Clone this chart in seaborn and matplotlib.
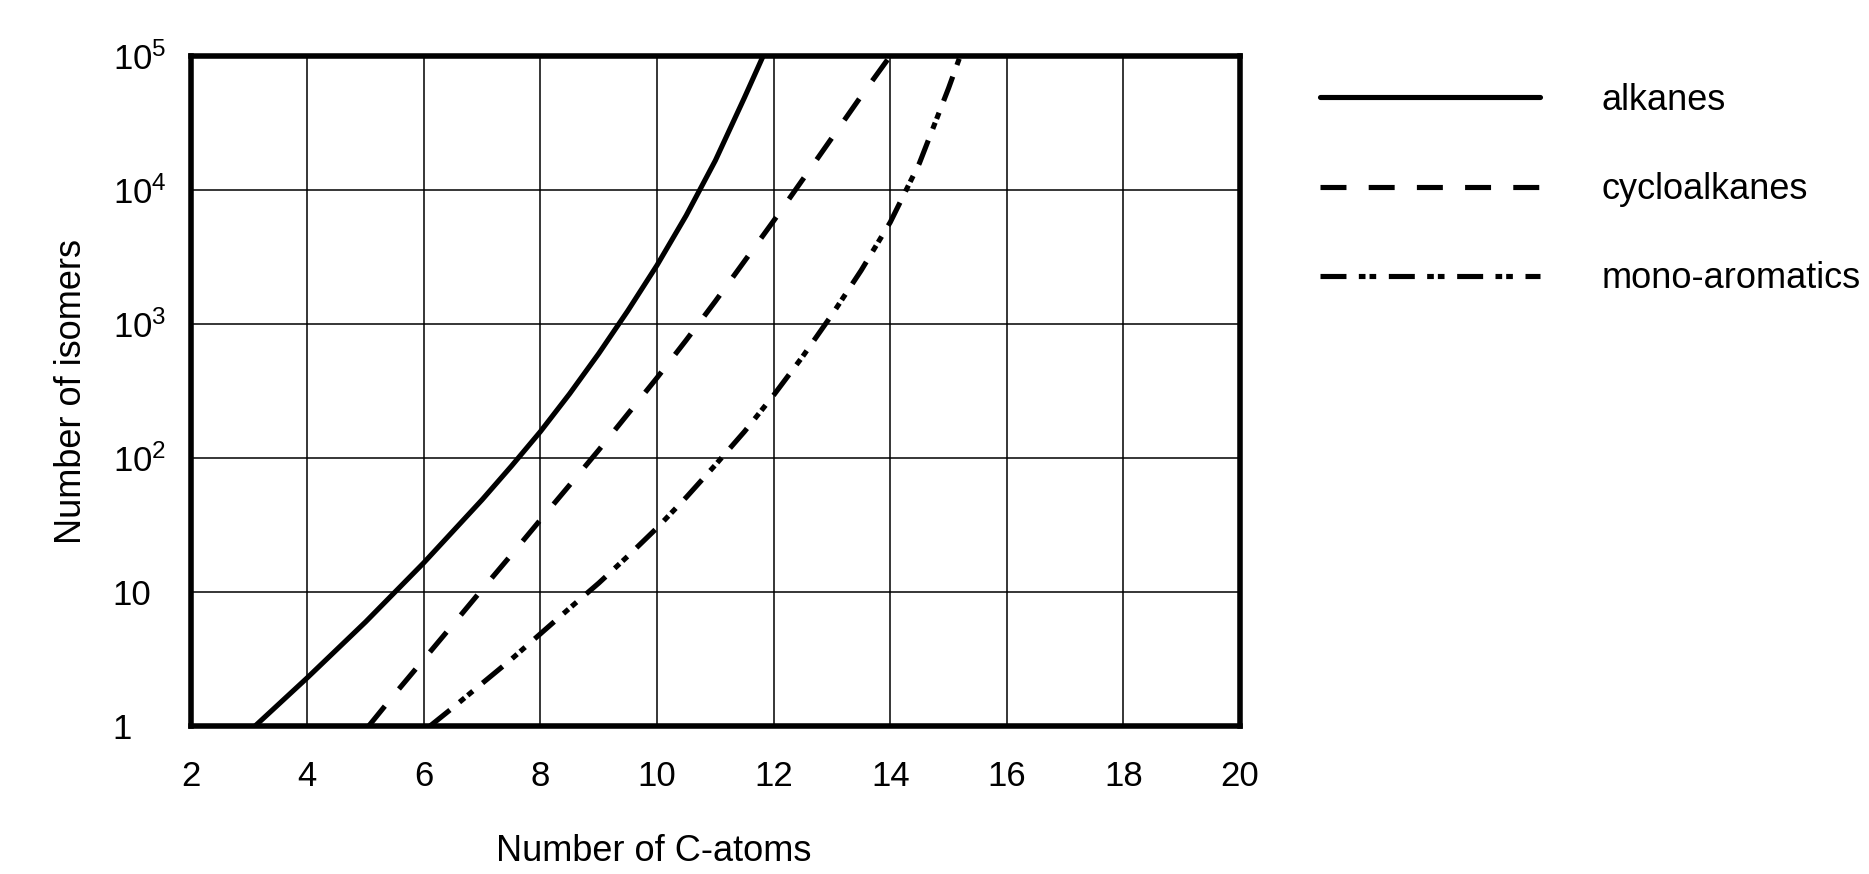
import matplotlib
matplotlib.use("Agg")
import matplotlib.pyplot as plt
import numpy as np
import pandas as pd
import seaborn as sns
from matplotlib.ticker import FixedLocator, NullLocator

# values (number of C-atoms vs number of isomers)
alkanes_c = [3.1, 4, 5, 6, 7, 7.5, 8, 8.5, 9, 9.5, 10, 10.5, 11, 11.5, 11.82]
alkanes_n = [1, 2.3, 6, 16.6, 49, 87, 158, 302, 603, 1260, 2750, 6460,
             16600, 49000, 100000]

cyclo_c = [5.05, 5.5, 6, 6.5, 7, 7.5, 8, 8.5, 9, 9.5, 10, 10.5, 11, 11.5,
           12, 12.5, 13, 13.5, 14]
cyclo_n = [1, 1.74, 3.16, 5.75, 10.5, 19, 34.7, 63, 115, 214, 398, 759,
           1480, 2950, 5890, 12000, 24500, 50100, 100000]

mono_c = [6.1, 6.5, 7, 7.5, 8, 8.5, 9, 9.5, 10, 10.5, 11, 11.5, 12, 12.5,
          13, 13.5, 14, 14.5, 15, 15.2]
mono_n = [1, 1.38, 2.09, 3.16, 4.9, 7.6, 11.7, 18.6, 30.2, 51, 89, 158,
          295, 575, 1175, 2510, 5750, 15850, 57500, 100000]

series_names = ["alkanes", "cycloalkanes", "mono-aromatics"]
x_ticks = [2, 4, 6, 8, 10, 12, 14, 16, 18, 20]
y_ticks = [1, 10, 100, 1000, 10000, 100000]
y_tick_labels = ["1", "10", "$10^2$", "$10^3$", "$10^4$", "$10^5$"]

df = pd.concat([
    pd.DataFrame({"c": alkanes_c, "n": alkanes_n, "series": series_names[0]}),
    pd.DataFrame({"c": cyclo_c, "n": cyclo_n, "series": series_names[1]}),
    pd.DataFrame({"c": mono_c, "n": mono_n, "series": series_names[2]}),
])

sns.set_theme(style="white")
plt.rcParams["font.family"] = ["Liberation Sans", "DejaVu Sans"]
plt.rcParams["mathtext.default"] = "regular"
plt.rcParams["lines.scale_dashes"] = False
plt.rcParams["text.color"] = "black"

fig = plt.figure(figsize=(18.69, 8.74), dpi=100)
ax = fig.add_axes([0.102, 0.169, 0.5615, 0.767])

# dash patterns in points
line_styles = {
    "alkanes": "",
    "cycloalkanes": (18.7, 16),
    "mono-aromatics": (18.7, 8.9, 4.8, 2.9, 4.8, 9.1),
}

sns.lineplot(data=df, x="c", y="n", style="series", style_order=series_names,
             dashes=line_styles, color="black", linewidth=3.7,
             estimator=None, sort=True, legend=False, ax=ax)

ax.set_yscale("log")
ax.set_xlim(2, 20)
ax.set_ylim(1, 100000)
ax.xaxis.set_major_locator(FixedLocator(x_ticks))
ax.set_xticklabels([str(t) for t in x_ticks])
ax.yaxis.set_major_locator(FixedLocator(y_ticks))
ax.yaxis.set_minor_locator(NullLocator())
ax.set_yticklabels(y_tick_labels)

ax.grid(True, which="major", color="black", linewidth=1.1)
ax.set_axisbelow(True)
for sp in ax.spines.values():
    sp.set_visible(True)
    sp.set_color("black")
    sp.set_linewidth(4)

ax.tick_params(axis="x", length=0, pad=24, labelsize=25, colors="black")
ax.tick_params(axis="y", length=0, pad=56, labelsize=25, colors="black")
for lab in ax.get_yticklabels():
    lab.set_horizontalalignment("left")

ax.set_xlabel("Number of C-atoms", fontsize=26, color="black")
ax.xaxis.set_label_coords(0.4414, -0.16)
ax.set_ylabel("Number of isomers", fontsize=26, color="black")
ax.yaxis.set_label_coords(-0.097, 0.5)

handles = ax.get_lines()[:3]
fig.legend(handles, series_names, loc="upper left", bbox_to_anchor=(0.706, 0.905),
           frameon=False, fontsize=26, handlelength=6.1, handletextpad=1.7,
           labelspacing=1.5, borderpad=0, borderaxespad=0, labelcolor="black")

fig.savefig("out.png", dpi=100)
